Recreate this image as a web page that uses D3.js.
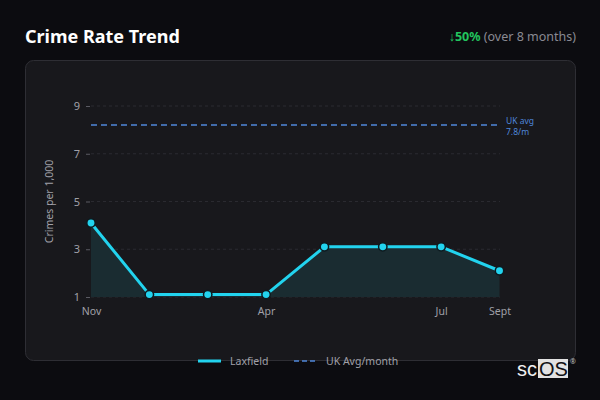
<!DOCTYPE html>
<html>
<head>
<meta charset="utf-8">
<script src="https://cdn.jsdelivr.net/npm/d3@7"></script>
<style>
    html, body { margin: 0; padding: 0; background: #0c0c10; }
    svg { display: block; font-family: "Noto Sans", sans-serif; }
</style>
</head>
<body>
<svg id="chart"></svg>
<script>
// chart data
const months = ['Nov', 'Dec', 'Feb', 'Apr', 'May', 'Jun', 'Jul', 'Sept']
const crimeRates = [4.1, 1.1, 1.1, 1.1, 3.1, 3.1, 3.1, 2.1]
const shownMonths = ['Nov', 'Apr', 'Jul', 'Sept']
const yTicks = [1, 3, 5, 7, 9]
const ukAvg = 8.2
const avgLabelLines = ['UK avg', '7.8/m']
const seriesName = 'Laxfield'
const avgName = 'UK Avg/month'

const config = {
    width: 600,
    height: 400,
    margin: {top: 106, right: 100, bottom: 103, left: 91},
    lineColor: '#22d3ee',
    avgColor: '#4f86d9'
}

const svg = d3.select('#chart')
    .attr('width', config.width)
    .attr('height', config.height)

svg.append('rect')
    .attr('width', config.width)
    .attr('height', config.height)
    .attr('fill', '#0c0c10')

// header
svg.append('text')
    .attr('x', 25)
    .attr('y', 43)
    .attr('fill', '#ffffff')
    .style('font-size', '18px')
    .style('font-weight', 700)
    .text('Crime Rate Trend')

const change = svg.append('text')
    .attr('x', 576)
    .attr('y', 41)
    .attr('text-anchor', 'end')
    .style('font-size', '12.5px')
change.append('tspan')
    .attr('fill', '#22c55e')
    .style('font-weight', 700)
    .text('↓50%')
change.append('tspan')
    .attr('fill', '#8a8a92')
    .text(' (over 8 months)')

// card
svg.append('rect')
    .attr('x', 25.5)
    .attr('y', 60.5)
    .attr('width', 550)
    .attr('height', 300)
    .attr('rx', 8)
    .attr('fill', '#18181c')
    .attr('stroke', '#2e2e34')

const innerW = config.width - config.margin.left - config.margin.right
const innerH = config.height - config.margin.top - config.margin.bottom

const g = svg.append('g')
    .attr('transform', `translate(${config.margin.left}, ${config.margin.top})`)

const xScale = d3.scalePoint()
    .domain(months)
    .range([0, innerW - 0.5])

const yScale = d3.scaleLinear()
    .domain([1, 9])
    .range([innerH, 0])

// grid lines
g.selectAll('.grid')
    .data(yTicks)
    .join('line')
    .attr('class', 'grid')
    .attr('x1', 0)
    .attr('x2', innerW)
    .attr('y1', d => yScale(d))
    .attr('y2', d => yScale(d))
    .attr('stroke', '#2a2a30')
    .attr('stroke-dasharray', '3,3')

// y axis
const yAxis = d3.axisLeft(yScale)
    .tickValues(yTicks)
    .tickSize(4)
    .tickPadding(6)
const yAxisG = g.append('g')
    .attr('transform', 'translate(-1, 0)')
    .call(yAxis)
yAxisG.select('.domain').remove()
yAxisG.selectAll('line').attr('stroke', '#5a5a62')
yAxisG.selectAll('text')
    .attr('fill', '#a0a0a8')
    .style('font-size', '11px')
    .style('font-family', '"Noto Sans", sans-serif')

// x axis
const xAxis = d3.axisBottom(xScale)
    .tickValues(shownMonths)
    .tickSize(0)
    .tickPadding(11)
const xAxisG = g.append('g')
    .attr('transform', `translate(0, ${innerH})`)
    .call(xAxis)
xAxisG.select('.domain').remove()
xAxisG.selectAll('text')
    .attr('fill', '#a0a0a8')
    .style('font-size', '10.5px')
    .style('font-family', '"Noto Sans", sans-serif')

// axis title
g.append('text')
    .attr('transform', `translate(-38, ${innerH / 2}) rotate(-90)`)
    .attr('text-anchor', 'middle')
    .attr('fill', '#a0a0a8')
    .style('font-size', '10.5px')
    .text('Crimes per 1,000')

// area and line
const area = d3.area()
    .x((d, i) => xScale(months[i]))
    .y0(yScale(1))
    .y1(d => yScale(d))
g.append('path')
    .datum(crimeRates)
    .attr('d', area)
    .attr('fill', '#1a2c31')

// uk average reference
g.append('line')
    .attr('x1', 0)
    .attr('x2', innerW - 3)
    .attr('y1', yScale(ukAvg))
    .attr('y2', yScale(ukAvg))
    .attr('stroke', config.avgColor)
    .attr('stroke-width', 1.5)
    .attr('stroke-dasharray', '6,4')

g.selectAll('.avg-label')
    .data(avgLabelLines)
    .join('text')
    .attr('class', 'avg-label')
    .attr('x', innerW + 6)
    .attr('y', (d, i) => yScale(ukAvg) - 1.5 + i * 11)
    .attr('fill', config.avgColor)
    .style('font-size', '8.5px')
    .text(d => d)

const line = d3.line()
    .x((d, i) => xScale(months[i]))
    .y(d => yScale(d))
g.append('path')
    .datum(crimeRates)
    .attr('d', line)
    .attr('fill', 'none')
    .attr('stroke', config.lineColor)
    .attr('stroke-width', 3)
    .attr('stroke-linejoin', 'round')

g.selectAll('.point')
    .data(crimeRates)
    .join('circle')
    .attr('class', 'point')
    .attr('cx', (d, i) => xScale(months[i]))
    .attr('cy', d => yScale(d))
    .attr('r', 4.2)
    .attr('fill', config.lineColor)
    .attr('stroke', '#0e1a1f')
    .attr('stroke-width', 1.5)

// legend (sits on the card border)
const legend = svg.append('g')
    .attr('transform', 'translate(198, 361)')
legend.append('line')
    .attr('x1', 0).attr('x2', 23)
    .attr('stroke', config.lineColor)
    .attr('stroke-width', 3)
legend.append('text')
    .attr('x', 32)
    .attr('y', 4)
    .attr('fill', '#a0a0a8')
    .style('font-size', '10.5px')
    .text(seriesName)
legend.append('line')
    .attr('x1', 96).attr('x2', 119)
    .attr('stroke', config.avgColor)
    .attr('stroke-width', 1.5)
    .attr('stroke-dasharray', '5,3')
legend.append('text')
    .attr('x', 128)
    .attr('y', 4)
    .attr('fill', '#a0a0a8')
    .style('font-size', '10.5px')
    .text(avgName)

// logo
const logo = svg.append('g')
    .attr('transform', 'translate(517, 376)')
logo.append('rect')
    .attr('x', 21)
    .attr('y', -17)
    .attr('width', 30)
    .attr('height', 19)
    .attr('fill', '#e2e2e2')
logo.append('text')
    .attr('x', 0)
    .attr('y', 0)
    .attr('fill', '#f0f0f0')
    .style('font-size', '20px')
    .style('font-family', '"Liberation Sans", sans-serif')
    .text('sc')
logo.append('text')
    .attr('x', 22)
    .attr('y', 0)
    .attr('fill', '#111114')
    .style('font-size', '20px')
    .style('font-family', '"Liberation Sans", sans-serif')
    .text('OS')
logo.append('text')
    .attr('x', 53)
    .attr('y', -12)
    .attr('fill', '#c0c0c0')
    .style('font-size', '7px')
    .text('®')
</script>
</body>
</html>
